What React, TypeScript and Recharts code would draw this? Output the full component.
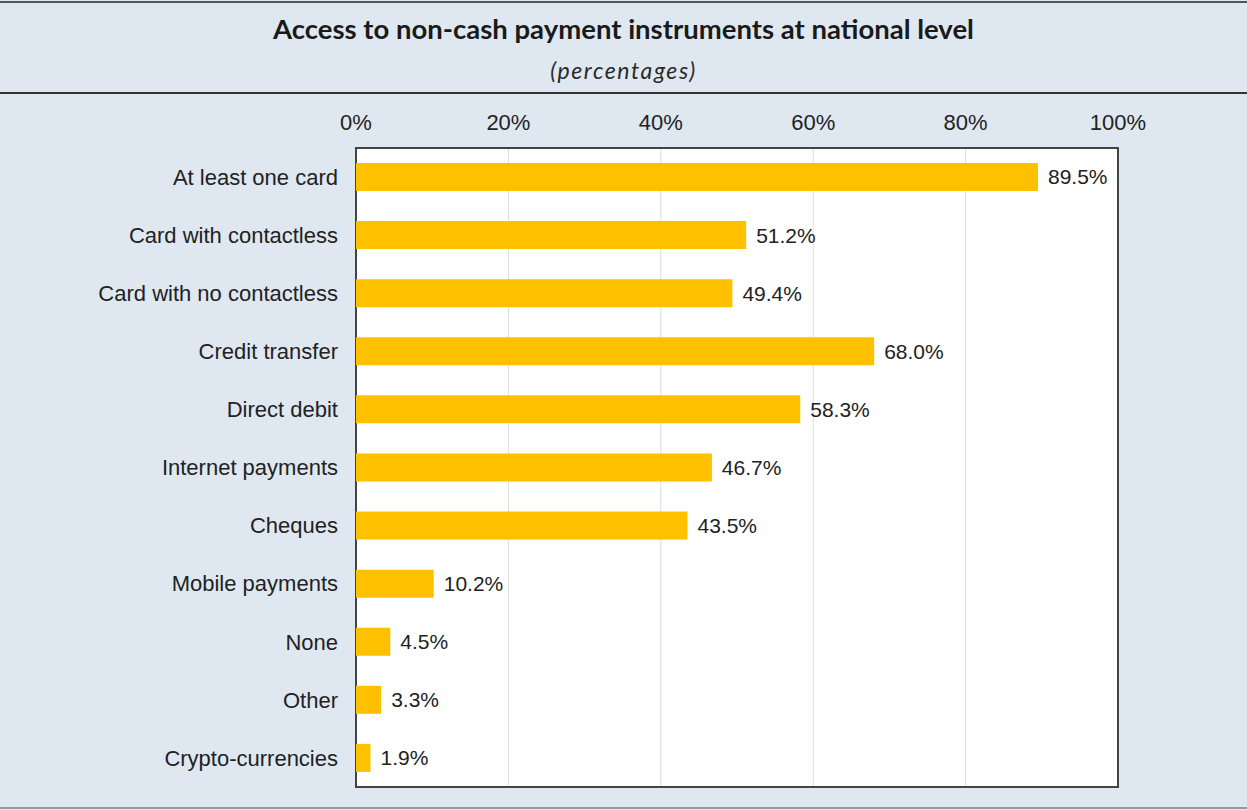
import React from "react";
import {
  BarChart,
  Bar,
  XAxis,
  YAxis,
  CartesianGrid,
  LabelList,
  ReferenceArea,
} from "recharts";

// categories and shares (%)
const categories = [
  "At least one card",
  "Card with contactless",
  "Card with no contactless",
  "Credit transfer",
  "Direct debit",
  "Internet payments",
  "Cheques",
  "Mobile payments",
  "None",
  "Other",
  "Crypto-currencies",
];
const shares = [89.5, 51.2, 49.4, 68.0, 58.3, 46.7, 43.5, 10.2, 4.5, 3.3, 1.9];
const xTicks = [0, 20, 40, 60, 80, 100];

const data = categories.map((name, i) => ({ name, value: shares[i] }));

const font = "'Liberation Sans', Arial, sans-serif";

export default function App() {
  return (
    <div
      style={{
        position: "absolute",
        left: 0,
        top: 0,
        width: 1247,
        height: 810,
        background: "#dfe8f1",
        fontFamily: font,
        overflow: "hidden",
      }}
    >
      <div style={{ position: "absolute", left: 0, top: 1, width: 1247, height: 2, background: "#555" }} />
      <div
        style={{
          position: "absolute",
          top: 12,
          width: 1247,
          textAlign: "center",
          fontFamily: "Lato, sans-serif",
          fontWeight: 700,
          fontSize: 27.5,
          color: "#1a1a1a",
        }}
      >
        Access to non-cash payment instruments at national level
      </div>
      <div
        style={{
          position: "absolute",
          top: 56,
          width: 1247,
          textAlign: "center",
          fontFamily: "Lato, sans-serif",
          fontStyle: "italic",
          fontWeight: 400,
          fontSize: 23,
          letterSpacing: 1.6,
          color: "#2a2a2a",
        }}
      >
        (percentages)
      </div>
      <div style={{ position: "absolute", left: 0, top: 92, width: 1247, height: 2, background: "#333" }} />
      <div style={{ position: "absolute", left: 0, top: 807, width: 1247, height: 2, background: "#999" }} />

      <div style={{ position: "absolute", left: 0, top: 95 }}>
        <BarChart
          width={1247}
          height={715}
          data={data}
          layout="vertical"
          margin={{ top: 23, right: 129, bottom: 23, left: 0 }}
        >
          <CartesianGrid horizontal={false} stroke="#dddddd" fill="#ffffff" />
          <XAxis
            type="number"
            orientation="top"
            domain={[0, 100]}
            ticks={xTicks}
            tickFormatter={(v) => `${v}%`}
            height={30}
            tickLine={false}
            tickSize={0}
            tickMargin={18}
            axisLine={false}
            tick={{ fill: "#222", fontSize: 22, fontFamily: font }}
          />
          <YAxis
            type="category"
            dataKey="name"
            width={356}
            tickLine={false}
            tickSize={0}
            tickMargin={18}
            axisLine={false}
            tick={{ fill: "#222", fontSize: 22, fontFamily: font }}
          />
          <Bar dataKey="value" fill="#ffc000" barSize={28} isAnimationActive={false}>
            <LabelList
              dataKey="value"
              position="right"
              offset={10}
              formatter={(v: number) => `${v.toFixed(1)}%`}
              fill="#222"
              fontSize={21}
              fontFamily={font}
            />
          </Bar>
          <ReferenceArea x1={0} x2={100} fill="none" stroke="#444" strokeWidth={2} />
        </BarChart>
      </div>
    </div>
  );
}
